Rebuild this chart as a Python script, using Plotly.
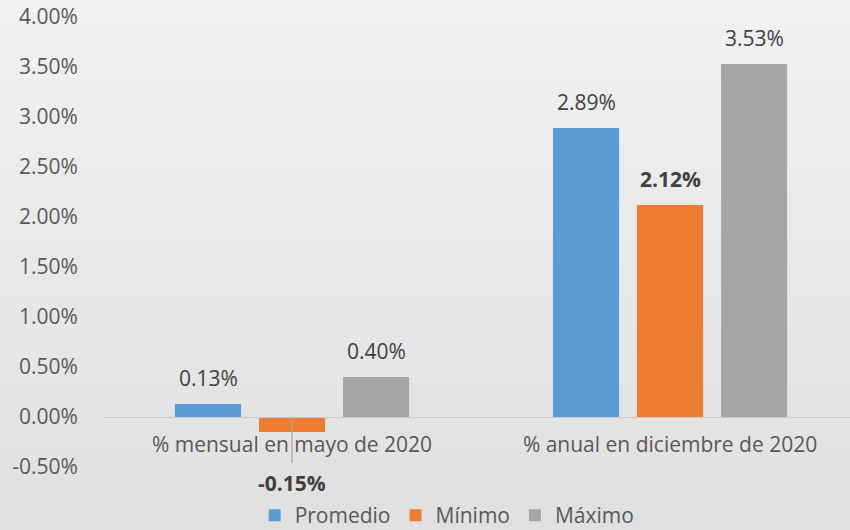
import plotly.graph_objects as go

categories = ["% mensual en mayo de 2020", "% anual en diciembre de 2020"]
series_names = ["Promedio", "Mínimo", "Máximo"]
promedio = [0.0013, 0.0289]
minimo = [-0.0015, 0.0212]
maximo = [0.0040, 0.0353]
colors = ["#5B9BD5", "#ED7D31", "#A5A5A5"]
bold_series = [False, True, False]
y_ticks = [-0.005, 0.0, 0.005, 0.01, 0.015, 0.02, 0.025, 0.03, 0.035, 0.04]
y_ticktext = [f"{v*100:.2f}%" for v in y_ticks]

FONT = "Open Sans"
FS = 21
TXT = "#595959"

series = [promedio, minimo, maximo]
fig = go.Figure()
for name, vals, col in zip(series_names, series, colors):
    fig.add_trace(go.Bar(x=categories, y=vals, name=name, marker_color=col,
                         marker_line_width=0, hoverinfo="skip"))

# data labels
slot_px = 84
for i, (vals, bold) in enumerate(zip(series, bold_series)):
    for c, v in zip(categories, vals):
        txt = f"{v*100:.2f}%"
        if bold:
            txt = f"<b>{txt}</b>"
        if v >= 0:
            fig.add_annotation(x=c, y=v, text=txt, showarrow=False, xref="x", yref="y",
                               xshift=(i - 1) * slot_px, yanchor="bottom", yshift=10,
                               font=dict(family=FONT, size=FS, color="#404040"))
        else:
            fig.add_annotation(x=c, y=v, text=txt, showarrow=False, xref="x", yref="y",
                               xshift=(i - 1) * slot_px, yanchor="top", yshift=-35,
                               font=dict(family=FONT, size=FS, color="#404040"))

# vertical axis crossing line below zero
fig.add_shape(type="line", xref="x", yref="y", x0=categories[0], x1=categories[0],
              y0=0, y1=-0.0046, line=dict(color="#A6A6A6", width=1.2), layer="above")

# background gradient bands
n = 40
top_y = 1 + 17 / 450
bot_y = -63 / 450
for k in range(n):
    t = k / (n - 1)
    g0 = int(round(0xF1 + (0xE0 - 0xF1) * t))
    ya = top_y - (top_y - bot_y) * k / n
    yb = top_y - (top_y - bot_y) * (k + 1) / n
    if k == 0:
        ya += 0.1
    if k == n - 1:
        yb -= 0.1
    fig.add_shape(type="rect", xref="paper", yref="paper", x0=-0.3, x1=1.3,
                  y0=yb - 0.002, y1=ya + 0.002, line_width=0,
                  fillcolor=f"rgb({g0},{g0},{g0})", layer="below")

fig.update_layout(
    width=850, height=530,
    margin=dict(l=103, r=0, t=17, b=63, autoexpand=False),
    paper_bgcolor="#E8E8E8", plot_bgcolor="rgba(0,0,0,0)",
    barmode="group", bargap=0.333, bargroupgap=0.214,
    font=dict(family=FONT, size=FS, color=TXT),
    showlegend=True,
    legend=dict(orientation="h", x=0.203, xanchor="left", y=-0.108, yanchor="middle",
                font=dict(family=FONT, size=FS, color=TXT), itemwidth=30,
                bgcolor="rgba(0,0,0,0)", traceorder="normal"),
)
fig.update_xaxes(range=[-0.5, 1.476], anchor="free", position=0.5 / 4.5,
                 showline=True, linecolor="#CBCBCB", linewidth=1.2,
                 showgrid=False, ticks="outside", ticklen=0, ticklabelstandoff=9,
                 tickfont=dict(family=FONT, size=FS, color=TXT), zeroline=False,
                 automargin=False)
fig.update_yaxes(range=[-0.005, 0.04], tickvals=y_ticks, ticktext=y_ticktext,
                 showgrid=False, zeroline=False, showline=False,
                 ticks="outside", ticklen=0, ticklabelstandoff=20, automargin=False,
                 tickfont=dict(family=FONT, size=FS, color=TXT))

fig.write_html("out.html", config={"displayModeBar": False},
               post_script="document.body.style.margin='0';document.body.style.overflow='hidden';")
